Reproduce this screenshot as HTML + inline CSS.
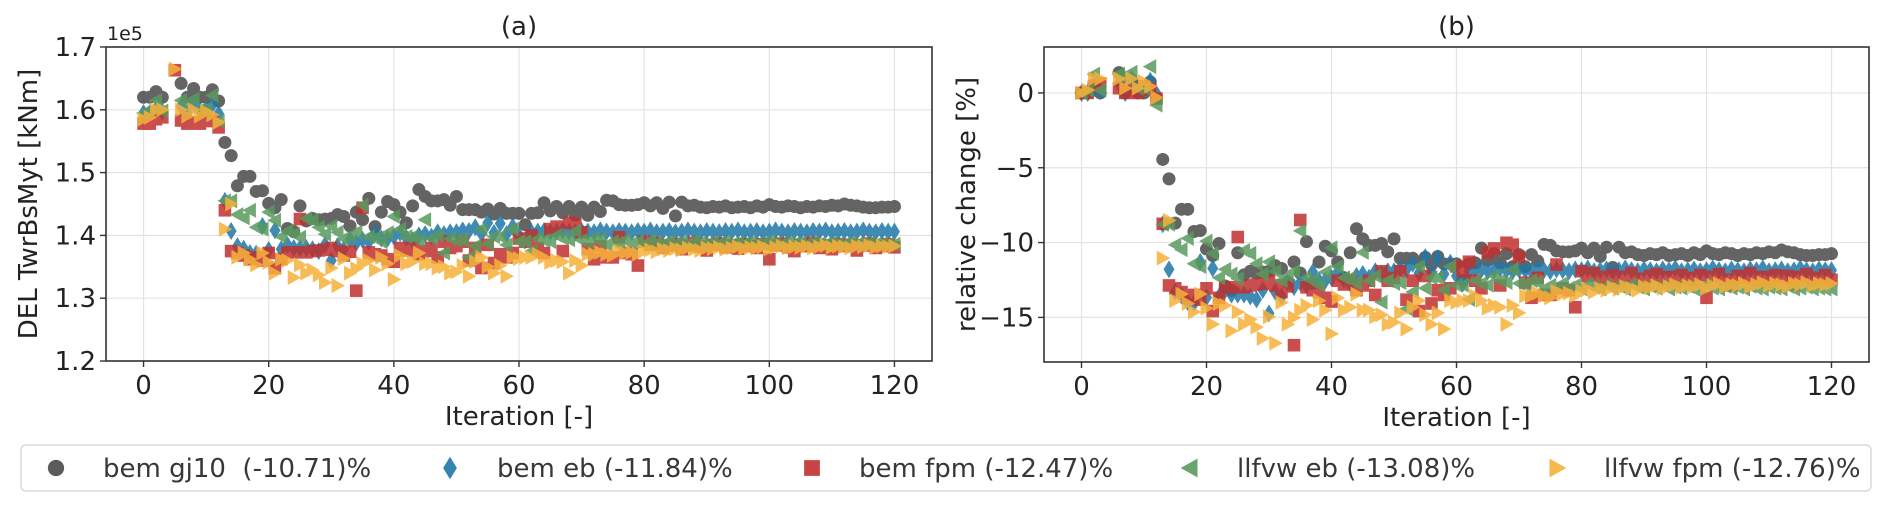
<!DOCTYPE html>
<html><head><meta charset="utf-8"><style>
html,body{margin:0;padding:0;background:#fff;}
svg{display:block;font-family:"DejaVu Sans","Liberation Sans",sans-serif;}
text{white-space:pre;}
</style></head><body>
<svg id="chart" width="1892" height="511" viewBox="0 0 1892 511" xmlns="http://www.w3.org/2000/svg"></svg>
<script>
const iterations = Array.from({length:121},(_,i)=>i);
const N = null;
const gj10 = [1.620,1.620,1.629,1.620,N,N,1.642,1.620,1.634,1.620,1.620,1.632,1.614,1.548,1.527,1.479,1.494,1.494,1.470,1.471,1.451,1.444,1.457,1.411,1.406,1.447,1.423,1.427,1.425,1.426,1.427,1.433,1.430,1.415,1.437,1.425,1.459,1.414,1.437,1.454,1.449,1.437,1.420,1.447,1.473,1.462,1.455,1.455,1.457,1.448,1.462,1.441,1.441,1.441,1.437,1.442,1.434,1.443,1.435,1.435,1.435,1.417,1.435,1.436,1.452,1.439,1.446,1.436,1.446,1.432,1.445,1.432,1.445,1.438,1.456,1.455,1.449,1.448,1.448,1.449,1.452,1.447,1.452,1.443,1.453,1.431,1.453,1.447,1.448,1.445,1.444,1.446,1.445,1.447,1.444,1.445,1.446,1.444,1.447,1.445,1.449,1.446,1.445,1.447,1.446,1.444,1.446,1.445,1.447,1.446,1.448,1.447,1.450,1.448,1.447,1.445,1.444,1.444,1.445,1.445,1.446];
const bemEb = [1.595,1.595,1.600,1.597,N,N,1.605,1.595,1.610,1.598,1.600,1.608,1.594,1.455,1.407,1.383,1.379,1.372,1.371,1.415,1.377,1.408,1.378,1.385,1.380,1.380,1.380,1.378,1.375,1.385,1.360,1.383,1.378,1.393,1.388,1.393,1.390,1.404,1.395,1.395,1.398,1.404,1.396,1.392,1.400,1.402,1.398,1.405,1.402,1.405,1.405,1.408,1.407,1.413,1.403,1.420,1.404,1.419,1.402,1.414,1.400,1.392,1.405,1.406,1.407,1.405,1.406,1.408,1.406,1.405,1.407,1.406,1.405,1.408,1.406,1.405,1.407,1.406,1.405,1.407,1.406,1.408,1.405,1.406,1.407,1.405,1.406,1.408,1.406,1.405,1.407,1.406,1.405,1.407,1.406,1.408,1.405,1.406,1.407,1.405,1.406,1.408,1.406,1.405,1.407,1.406,1.405,1.407,1.406,1.408,1.405,1.406,1.407,1.405,1.406,1.408,1.406,1.405,1.407,1.406,1.406];
const bemFpm = [1.578,1.578,1.585,1.588,N,1.663,1.583,1.578,1.580,1.578,1.585,1.582,1.572,1.440,1.375,1.372,1.368,1.362,1.365,1.360,1.372,1.348,1.362,1.373,1.373,1.426,1.373,1.375,1.376,1.377,1.380,1.375,1.368,1.374,1.312,1.444,1.373,1.370,1.368,1.362,1.358,1.380,1.376,1.380,1.370,1.375,1.380,1.365,1.390,1.380,1.383,1.390,1.360,1.380,1.348,1.385,1.356,1.370,1.365,1.372,1.395,1.390,1.400,1.380,1.372,1.410,1.414,1.375,1.420,1.418,1.405,1.378,1.362,1.383,1.365,1.365,1.397,1.372,1.370,1.352,1.390,1.385,1.388,1.380,1.384,1.386,1.378,1.384,1.388,1.382,1.376,1.385,1.387,1.381,1.384,1.379,1.386,1.383,1.380,1.386,1.362,1.384,1.387,1.381,1.375,1.385,1.383,1.388,1.380,1.384,1.378,1.386,1.383,1.385,1.376,1.384,1.387,1.380,1.383,1.386,1.381];
const llEb = [1.595,1.598,1.615,1.598,N,N,1.615,1.610,1.617,1.600,1.600,1.623,1.582,1.455,1.455,1.433,1.428,1.440,1.413,1.410,1.437,1.424,1.398,1.407,1.402,1.397,1.427,1.424,1.413,1.402,1.415,1.405,1.395,1.400,1.405,1.448,1.398,1.395,1.390,1.404,1.430,1.410,1.398,1.398,1.392,1.425,1.395,1.400,1.372,1.395,1.392,1.393,1.365,1.383,1.410,1.387,1.398,1.398,1.385,1.410,1.390,1.390,1.375,1.395,1.392,1.390,1.400,1.395,1.393,1.407,1.392,1.390,1.395,1.393,1.385,1.390,1.388,1.392,1.387,1.390,1.386,1.391,1.388,1.386,1.390,1.387,1.389,1.386,1.391,1.388,1.386,1.389,1.387,1.390,1.386,1.388,1.387,1.389,1.386,1.388,1.390,1.387,1.386,1.389,1.387,1.388,1.386,1.389,1.387,1.386,1.388,1.387,1.386,1.389,1.386,1.387,1.388,1.386,1.387,1.386,1.386];
const llFpm = [1.585,1.588,1.600,1.600,N,1.665,1.600,1.590,1.600,1.590,1.597,1.592,1.580,1.410,1.450,1.365,1.372,1.362,1.353,1.372,1.357,1.340,1.362,1.360,1.333,1.353,1.340,1.345,1.337,1.325,1.348,1.320,1.363,1.340,1.347,1.355,1.360,1.345,1.365,1.355,1.330,1.368,1.355,1.358,1.372,1.355,1.355,1.348,1.350,1.340,1.342,1.352,1.335,1.358,1.365,1.350,1.340,1.352,1.335,1.365,1.363,1.365,1.365,1.370,1.365,1.357,1.360,1.358,1.340,1.360,1.352,1.370,1.370,1.373,1.370,1.368,1.375,1.372,1.373,1.370,1.375,1.377,1.374,1.378,1.376,1.379,1.377,1.380,1.378,1.376,1.380,1.379,1.381,1.378,1.380,1.382,1.379,1.381,1.380,1.382,1.378,1.381,1.383,1.380,1.382,1.381,1.383,1.380,1.382,1.384,1.381,1.383,1.382,1.380,1.383,1.382,1.384,1.381,1.383,1.382,1.383];
const seriesNames = ["bem gj10  (-10.71)%","bem eb (-11.84)%","bem fpm (-12.47)%","llfvw eb (-13.08)%","llfvw fpm (-12.76)%"];
const xTicks = [0,20,40,60,80,100,120];
const yTicksA = [1.2,1.3,1.4,1.5,1.6,1.7];
const yTicksB = [0,-5,-10,-15];

const svg = document.getElementById('chart');
const NS='http://www.w3.org/2000/svg';
function mk(tag, attrs, parent){const e=document.createElementNS(NS,tag);for(const k in attrs)e.setAttribute(k,attrs[k]);(parent||svg).appendChild(e);return e;}
const allSeries=[gj10,bemEb,bemFpm,llEb,llFpm];
const colors=['#4a4a4a','#1f77a8','#c0302e','#5a9a5e','#f7b13a'];
const shapes=['circle','diamond','square','tleft','tright'];
const slugs=['bem-gj10','bem-eb','bem-fpm','llfvw-eb','llfvw-fpm'];

function marker(shape,x,y,color,g,s){
  s=s||1;
  let e;
  if(shape==='circle') e=mk('circle',{cx:x,cy:y,r:6.5*s},g);
  else if(shape==='square') e=mk('rect',{x:x-6.3*s,y:y-6.3*s,width:12.6*s,height:12.6*s},g);
  else if(shape==='diamond') e=mk('polygon',{points:`${x},${y-9*s} ${x+5.5*s},${y} ${x},${y+9*s} ${x-5.5*s},${y}`},g);
  else if(shape==='tleft') e=mk('polygon',{points:`${x-7.5*s},${y} ${x+6*s},${y-7.5*s} ${x+6*s},${y+7.5*s}`},g);
  else e=mk('polygon',{points:`${x+7.5*s},${y} ${x-6*s},${y-7.5*s} ${x-6*s},${y+7.5*s}`},g);
  e.setAttribute('fill',color);
  return e;
}

function panel(p){
  const xs=v=>p.x0+(v-(-6))/(132)*(p.x1-p.x0);
  const ys=v=>p.y1-(v-p.ymin)/(p.ymax-p.ymin)*(p.y1-p.y0);
  const g=mk('g',{});
  
  
  const clipId='clip'+p.id;
  const cp=mk('clipPath',{id:clipId},g);mk('rect',{x:p.x0,y:p.y0,width:p.x1-p.x0,height:p.y1-p.y0},cp);
  xTicks.forEach(t=>{const l=mk('line',{x1:xs(t),x2:xs(t),y1:p.y0,y2:p.y1,stroke:'#e3e3e3','stroke-width':1.2},g);
    });
  p.yt.forEach(t=>{const l=mk('line',{x1:p.x0,x2:p.x1,y1:ys(t),y2:ys(t),stroke:'#e3e3e3','stroke-width':1.2},g);
    });
  allSeries.forEach((s,si)=>{
    const sg=mk('g',{'clip-path':`url(#${clipId})`,opacity:0.85},g);
    
    
    const base=s[0];
    s.forEach((v,i)=>{ if(v===null)return;
      const val=p.rel?(v/base-1)*100:v;
      const m=marker(shapes[si],xs(iterations[i]),ys(val),colors[si],sg);
      
      
    });
  });
  const fr=mk('rect',{x:p.x0,y:p.y0,width:p.x1-p.x0,height:p.y1-p.y0,fill:'none',stroke:'#333','stroke-width':1.6},g);
  
  xTicks.forEach(t=>{mk('line',{x1:xs(t),x2:xs(t),y1:p.y1,y2:p.y1+6,stroke:'#333','stroke-width':1.4},g);
    const tx=mk('text',{x:xs(t),y:p.y1+33,'text-anchor':'middle','font-size':26,fill:'#222'},g);tx.textContent=t;
    });
  p.yt.forEach(t=>{mk('line',{x1:p.x0-6,x2:p.x0,y1:ys(t),y2:ys(t),stroke:'#333','stroke-width':1.4},g);
    const tx=mk('text',{x:p.x0-10,y:ys(t)+9,'text-anchor':'end','font-size':26,fill:'#222'},g);
    tx.textContent=p.rel?String(t).replace('-','\u2212'):t.toFixed(1);
    });
  const xl=mk('text',{x:(p.x0+p.x1)/2,y:p.y1+64,'text-anchor':'middle','font-size':26,fill:'#222'},g);xl.textContent='Iteration [-]';
  
  const yl=mk('text',{x:0,y:0,'text-anchor':'middle','font-size':26,fill:'#222',transform:`translate(${p.ylx},${(p.y0+p.y1)/2}) rotate(-90)`},g);yl.textContent=p.ylabel;
  
  const ti=mk('text',{x:(p.x0+p.x1)/2,y:p.y0-12,'text-anchor':'middle','font-size':26,fill:'#222'},g);ti.textContent=p.title;
  
  if(!p.rel){const o=mk('text',{x:p.x0+1,y:p.y0-7,'font-size':19,fill:'#222'},g);o.textContent='1e5';
    }
}
panel({id:'a',name:'panel-a',x0:106,x1:932,y0:47,y1:361,ymin:1.2,ymax:1.7,yt:yTicksA,rel:false,ylabel:'DEL TwrBsMyt [kNm]',ylx:37,title:'(a)'});
panel({id:'b',name:'panel-b',x0:1044,x1:1869,y0:47,y1:362,ymin:-17.98,ymax:3.07,yt:yTicksB,rel:true,ylabel:'relative change [%]',ylx:975,title:'(b)'});

const lg=mk('g',{});


mk('rect',{x:21,y:445,width:1850,height:46,rx:5,fill:'#fff',stroke:'#d9d9d9','stroke-width':1.5},lg);
const legX=[56,450,812,1190,1557];
seriesNames.forEach((n,i)=>{
  const eg=mk('g',{opacity:0.9},lg);
  
  
  marker(shapes[i],legX[i],468,colors[i],eg,1.25);
  const t=mk('text',{x:legX[i]+47,y:477,'font-size':26,fill:'#222'},eg);t.textContent=n;
});
</script>
</body></html>
